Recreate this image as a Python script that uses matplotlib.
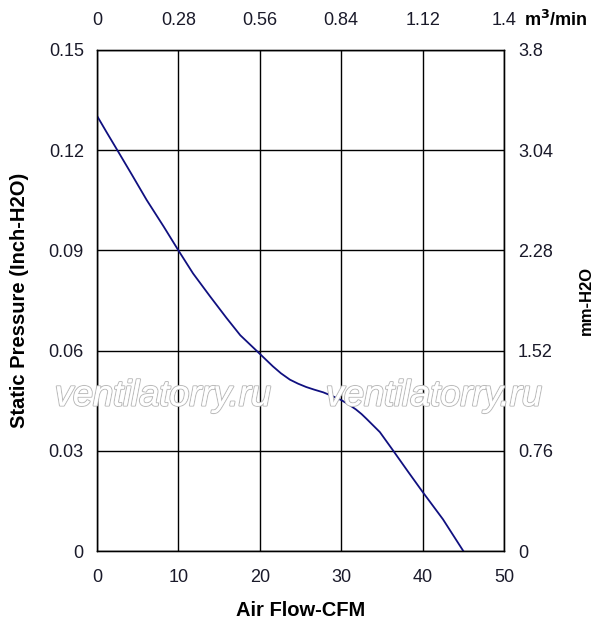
import matplotlib
matplotlib.use("Agg")
import matplotlib.pyplot as plt
import matplotlib.patheffects as pe

plt.rcParams['font.family'] = ['Liberation Sans', 'DejaVu Sans']

# Data
cfm = [0, 1.2, 2.5, 4.3, 6.1, 8.2, 10, 11.8, 13.9, 15.9, 17.6, 19.8, 20.7, 21.6, 22.6,
       23.7, 24.7, 25.7, 26.7, 27.8, 28.9, 30, 30.9, 31.8, 32.5, 33.1, 34.75, 36.4,
       38.2, 40, 42.5, 45]
pressure_inch = [0.1303, 0.1253, 0.120, 0.1126, 0.1051, 0.0971, 0.090, 0.0831, 0.0762,
                 0.0698, 0.0646, 0.0595, 0.0574, 0.0553, 0.0532, 0.0513, 0.0501, 0.0491,
                 0.0483, 0.0475, 0.0464, 0.0452, 0.0439, 0.0424, 0.0410, 0.0396, 0.0356,
                 0.030, 0.0238, 0.0177, 0.0095, 0.0]

x_ticks = [0, 10, 20, 30, 40, 50]
y_ticks = [0, 0.03, 0.06, 0.09, 0.12, 0.15]
y_tick_labels = ['0', '0.03', '0.06', '0.09', '0.12', '0.15']
top_tick_labels = ['0', '0.28', '0.56', '0.84', '1.12', '1.4']
right_tick_labels = ['0', '0.76', '1.52', '2.28', '3.04', '3.8']

W, H = 597, 626
fig = plt.figure(figsize=(W / 100, H / 100), dpi=100)
ax = fig.add_axes([97 / W, 1 - 551 / H, 407 / W, 501 / H])

ax.plot(cfm, pressure_inch, color='#101080', lw=1.3, zorder=3, solid_joinstyle='round')
ax.set_xlim(0, 50)
ax.set_ylim(0, 0.15)
ax.set_xticks(x_ticks)
ax.set_yticks(y_ticks)
ax.set_yticklabels(y_tick_labels)
ax.grid(True, color='black', lw=1.0)
for s in ax.spines.values():
    s.set_color('black')
    s.set_linewidth(1.0)

tc = '#1a1a2a'
ax.tick_params(axis='x', length=0, pad=13, labelsize=13, labelcolor=tc)
ax.tick_params(axis='y', length=0, pad=9.5, labelsize=13, labelcolor=tc)

ax.set_xlabel('Air Flow-CFM', fontsize=14.5, fontweight='bold', labelpad=11)
ax.set_ylabel('Static Pressure (Inch-H2O)', fontsize=14.5, fontweight='bold', labelpad=14)

# top axis
axt = ax.twiny()
axt.set_xlim(0, 50)
axt.set_xticks(x_ticks)
axt.set_xticklabels(top_tick_labels)
axt.tick_params(axis='x', length=0, pad=15, labelsize=13, labelcolor=tc)

# right axis
axr = ax.twinx()
axr.set_ylim(0, 0.15)
axr.set_yticks(y_ticks)
axr.set_yticklabels(right_tick_labels)
axr.tick_params(axis='y', length=0, pad=10, labelsize=13, labelcolor=tc)

fig.text(586 / W, 1 - 300 / H, 'mm-H2O', fontsize=12, fontweight='bold',
         rotation=90, ha='center', va='center')

fig.text(524 / W, 1 - 20 / H, r'm$^{\mathbf{3}}$/min', fontsize=13, fontweight='bold',
         ha='left', va='center')

# watermark
for xc in (163, 434):
    fig.text(xc / W, 1 - 396 / H, 'ventilatorry.ru', fontsize=26, style='italic',
             color='white', ha='center', va='center', zorder=10,
             path_effects=[pe.withStroke(linewidth=1.6, foreground='#bcbcbc'), pe.Normal()])

fig.savefig('out.png', dpi=100)
